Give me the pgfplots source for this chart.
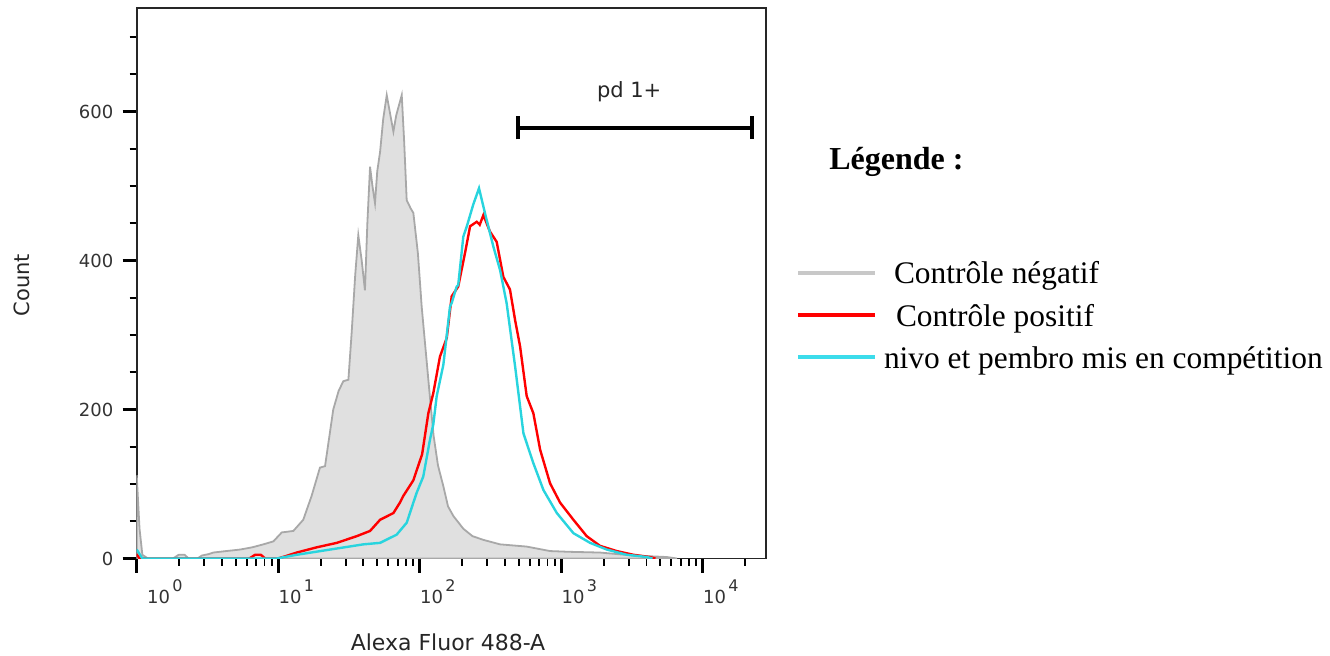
\documentclass[border=0pt]{standalone}
\usepackage{fontspec}
\setmainfont{Liberation Serif}
\newfontfamily\facs{DejaVu Sans}
\usepackage{pgfplots}
\pgfplotsset{compat=1.18}
\usetikzlibrary{arrows.meta}
\definecolor{negfill}{RGB}{224,224,224}
\definecolor{negline}{RGB}{168,168,168}
\definecolor{negleg}{RGB}{200,200,200}
\definecolor{posred}{RGB}{255,0,0}
\definecolor{compcyan}{RGB}{40,212,222}
\definecolor{legcyan}{RGB}{60,220,235}
\newcommand{\dec}[1]{10\hspace{1.2pt}\raisebox{6pt}{\fontsize{8}{8}\selectfont #1}}
\begin{document}
\begin{tikzpicture}
\path[use as bounding box] (0,0) rectangle (665pt,327.5pt);
\begin{axis}[
  at={(68.35pt,48.25pt)}, anchor=south west,
  scale only axis, width=314.65pt, height=275.25pt,
  xmin=0, xmax=4.447, ymin=0, ymax=739,
  clip mode=individual,
  axis line style={line width=0.9pt, black!85},
  tick align=outside, tick pos=left,
  major tick length=7pt, minor tick length=3.5pt,
  major tick style={line width=1.4pt, black},
  minor tick style={line width=0.9pt, black},
  xtick={0,1,2,3,4},
  xticklabels={{\hspace*{5pt}\dec{0}},{\dec{1}},{\dec{2}},{\dec{3}},{\dec{4}}},
  minor xtick={0.301,0.477,0.602,0.699,0.778,0.845,0.903,0.954,
               1.301,1.477,1.602,1.699,1.778,1.845,1.903,1.954,
               2.301,2.477,2.602,2.699,2.778,2.845,2.903,2.954,
               3.301,3.477,3.602,3.699,3.778,3.845,3.903,3.954,4.301},
  ytick={0,200,400,600},
  minor ytick={50,100,150,250,300,350,450,500,550,650,700},
  /pgf/number format/assume math mode=true,
  ticklabel style={font=\facs\fontsize{9}{10}\selectfont, text=black!80},
  xticklabel style={anchor=north west, inner sep=0pt, yshift=-3.5pt},
  yticklabel style={inner sep=0pt, xshift=-4.5pt},
  xlabel={Alexa Fluor 488-A}, ylabel={Count},
  every axis x label/.style={at={(axis description cs:0.4947,-0.1525)}, anchor=center,
     font=\facs\fontsize{11}{13}\selectfont, text=black!85},
  every axis y label/.style={at={(axis description cs:-0.1823,0.4968)}, anchor=center, rotate=90,
     font=\facs\fontsize{10.5}{12}\selectfont, text=black!85},
  legend style={draw=none, fill=none, inner sep=0pt, outer sep=0pt,
    at={(axis description cs:1.0477,0.5465)}, anchor=north west,
    font=\fontsize{15.7}{18}\selectfont, row sep=6.2pt, column sep=3.5pt,
    nodes={inner sep=0pt, text height=13pt, text depth=2pt}},
  legend cell align=left,
  legend image code/.code={\draw[#1, line width=2pt] (0pt,0pt) -- (38.5pt,0pt);},
]
\addplot[fill=negfill, draw=negline, line width=0.9pt, forget plot] table {
0 112
0.02 40
0.04 5
0.08 0
0.256 0
0.297 5
0.338 5
0.368 0
0.43 0
0.46 4
0.511 6
0.541 8
0.633 10
0.73 12
0.816 15
0.895 19
0.966 23
1.025 35
1.107 37
1.177 52
1.236 84
1.295 122
1.331 124
1.389 200
1.427 225
1.460 238
1.496 240
1.519 303
1.544 380
1.566 434
1.590 400
1.613 360
1.630 450
1.649 526
1.666 500
1.684 477
1.700 520
1.720 546
1.742 590
1.767 622
1.788 600
1.814 573
1.834 595
1.873 622
1.890 560
1.908 481
1.936 470
1.955 464
1.987 410
2.014 338
2.037 290
2.073 215
2.098 165
2.129 125
2.167 97
2.200 70
2.238 57
2.308 40
2.373 30
2.450 25
2.568 19
2.756 16
2.921 10
3.055 9
3.274 8
3.510 4
3.745 2
3.818 0
} \closedcycle;
\addplot[posred, line width=1.2pt, forget plot] table {
0 6
0.02 0
0.796 0
0.837 5
0.877 5
0.908 0
0.999 0
1.050 3
1.131 8
1.272 15
1.414 21
1.555 30
1.649 37
1.720 52
1.814 61
1.860 75
1.884 84
1.955 105
2.017 140
2.061 195
2.096 222
2.143 271
2.191 296
2.226 352
2.272 365
2.320 410
2.356 446
2.403 452
2.424 448
2.450 461
2.496 439
2.544 425
2.591 378
2.638 361
2.674 320
2.709 285
2.756 218
2.803 195
2.851 146
2.921 101
2.992 75
3.086 52
3.180 30
3.274 17
3.392 10
3.510 5
3.627 2
3.666 0
};
\addplot[compcyan, line width=1.2pt, forget plot] table {
0 12
0.04 0
0.989 0
1.131 5
1.366 12
1.602 19
1.720 21
1.837 32
1.908 48
1.955 75
1.978 88
2.025 110
2.073 160
2.096 180
2.120 218
2.167 260
2.214 338
2.226 343
2.261 365
2.272 367
2.308 432
2.333 446
2.378 475
2.419 497
2.462 463
2.520 419
2.568 387
2.614 343
2.674 258
2.733 168
2.803 128
2.874 92
2.969 61
3.086 34
3.204 21
3.322 12
3.463 5
3.605 2
3.645 0
};
\addplot[black, line width=2pt, {Bar[width=11.5pt]}-{Bar[width=11.5pt]}, forget plot] coordinates {(2.681,578) (4.363,578)};
\node[font=\facs\fontsize{10.5}{12}\selectfont, text=black!85] at (axis cs:3.48,627) {pd 1+};
\node[anchor=base west, inner sep=0pt, font=\bfseries\fontsize{16}{18}\selectfont] at (axis description cs:1.1001,0.7075) {Légende :};
\addlegendimage{negleg}
\addlegendentry{\hspace*{5pt}Contrôle négatif}
\addlegendimage{posred}
\addlegendentry{\hspace*{6pt}Contrôle positif}
\addlegendimage{legcyan}
\addlegendentry{nivo et pembro mis en compétition}
\end{axis}
\end{tikzpicture}
\end{document}
